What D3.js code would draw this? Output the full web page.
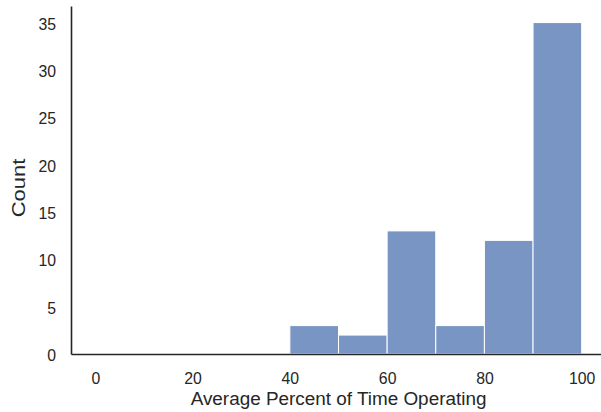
<!DOCTYPE html>
<html><head><meta charset="utf-8">
<script src="https://cdn.jsdelivr.net/npm/d3@7"></script>
<style>body{margin:0;background:#fff}svg{display:block}</style>
</head><body>
<svg id="c" width="601" height="412"></svg>
<script>
const binStarts = [0,10,20,30,40,50,60,70,80,90];
const binWidth = 10;
const counts = [0,0,0,0,3,2,13,3,12,35];
const xTicks = [0,20,40,60,80,100];
const yTicks = [0,5,10,15,20,25,30,35];
const xLabel = "Average Percent of Time Operating";
const yLabel = "Count";

const svg = d3.select("#c");
const mLeft = 71, mBottom = 354, mTop = 6, mRight = 606;
const x = d3.scaleLinear().domain([-5,105]).range([mLeft,mRight]);
const y = d3.scaleLinear().domain([0,36.75]).range([mBottom,mTop]);
const font = "'Liberation Sans', Arial, sans-serif";

svg.append("g").selectAll("rect").data(binStarts).join("rect")
  .attr("x", (d)=>x(d))
  .attr("width", (d)=>x(d+binWidth)-x(d))
  .attr("y", (d,i)=>y(counts[i]))
  .attr("height", (d,i)=>y(0)-y(counts[i]))
  .attr("fill", "#7995c4")
  .attr("stroke", "#fff")
  .attr("stroke-width", 1);

const ink = "#262626";
const xAxis = svg.append("g").attr("transform",`translate(0,${mBottom})`)
  .call(d3.axisBottom(x).tickValues(xTicks).tickSize(0));
const yAxis = svg.append("g").attr("transform",`translate(${mLeft},0)`)
  .call(d3.axisLeft(y).tickValues(yTicks).tickSize(0));
[xAxis,yAxis].forEach(g=>{
  g.select(".domain").attr("stroke",ink).attr("stroke-width",1.6);
  g.selectAll("text").attr("fill",ink).style("font-family",font).style("font-size","15.8px")
    .attr("dy",null).attr("y",0).attr("x",0);
});
xAxis.selectAll("text").attr("transform",`translate(0,29.5)`);
yAxis.selectAll("text").attr("text-anchor","end").attr("transform",`translate(-15,6.5)`);

svg.append("text").attr("transform",`translate(${(x(0)+x(100))/2},405)`)
  .attr("text-anchor","middle").attr("fill",ink)
  .style("font-family",font).style("font-size","18.9px")
  .text(xLabel);
svg.append("text").attr("transform",`translate(25,188) rotate(-90) scale(1.17,1)`)
  .attr("text-anchor","middle").attr("fill",ink)
  .style("font-family",font).style("font-size","18.8px")
  .text(yLabel);
</script>
</body></html>
